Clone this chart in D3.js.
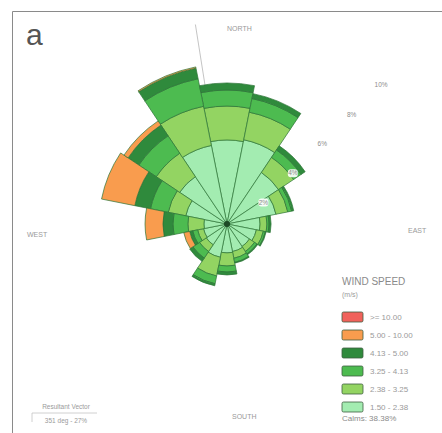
<!DOCTYPE html>
<html>
<head>
<meta charset="utf-8">
<script src="https://cdn.jsdelivr.net/npm/d3@7"></script>
<style>
  body { margin: 0; background: #fff; }
  text { font-family: "Liberation Sans", Arial, sans-serif; }
</style>
</head>
<body>
<div id="rose"></div>
<script>
// Values
const directions = ["N", "NNE", "NE", "ENE", "E", "ESE", "SE", "SSE", "S", "SSW", "SW", "WSW", "W", "WNW", "NW", "NNW"];
const speedBins = ["1.50 - 2.38", "2.38 - 3.25", "3.25 - 4.13", "4.13 - 5.00", "5.00 - 10.00", ">= 10.00"];

// frequency (%) per direction, one array per wind speed class
const pct150 = [4.04, 4.13, 2.98, 2.40, 1.59, 1.44, 1.30, 1.35, 1.39, 1.63, 1.20, 1.15, 1.11, 2.02, 2.74, 3.85];
const pct238 = [1.63, 1.35, 0.87, 0.58, 0.33, 0.34, 0.29, 0.33, 0.63, 0.92, 0.39, 0.29, 0.77, 0.86, 1.35, 1.92];
const pct325 = [0.77, 0.67, 0.43, 0.19, 0.10, 0.10, 0.14, 0.20, 0.29, 0.38, 0.38, 0.24, 0.72, 0.87, 1.01, 1.35];
const pct413 = [0.34, 0.24, 0.24, 0.10, 0.10, 0.04, 0.05, 0.04, 0.14, 0.10, 0.19, 0.15, 0.48, 0.77, 0.62, 0.52];
const pct500 = [0, 0, 0, 0, 0, 0, 0, 0, 0, 0, 0, 0.29, 0.86, 1.63, 0.24, 0.06];
const pct1000 = [0, 0, 0, 0, 0, 0, 0, 0, 0, 0, 0, 0, 0, 0, 0, 0];

const ringTicks = [2, 4, 6, 8, 10];
const calms = 38.38;
const resultantDeg = 351;
const resultantPct = 27;

const binColors = ["#a3ecb1", "#93d462", "#4dbb50", "#2f8a3c", "#f99c4e", "#f0625b"];

const width = 442;
const height = 433;
const cx = 227;
const cy = 224;

const svg = d3.select("#rose")
  .append("svg")
  .attr("width", width)
  .attr("height", height);

// frame (top and left edges only show in the figure)
svg.append("path")
  .attr("d", `M12.5,${height} V11.5 H${width}`)
  .attr("fill", "none")
  .attr("stroke", "#8a8a8a")
  .attr("stroke-width", 1);

svg.append("text")
  .attr("x", 26)
  .attr("y", 45)
  .attr("fill", "#555")
  .style("font-size", "30px")
  .text("a");

// build table for stacking
const binValues = [pct150, pct238, pct325, pct413, pct500, pct1000];
const table = directions.map((dir, i) => {
  const row = { dir };
  speedBins.forEach((k, j) => { row[k] = binValues[j][i]; });
  return row;
});
const series = d3.stack().keys(speedBins)(table);

const r = d3.scaleLinear().domain([0, 10]).range([0, 208]);
const angle = d3.scaleBand()
  .domain(directions)
  .range([-Math.PI / 16, 2 * Math.PI - Math.PI / 16])
  .paddingInner(0);
const color = d3.scaleOrdinal().domain(speedBins).range(binColors);

const rose = svg.append("g").attr("transform", `translate(${cx},${cy})`);

// resultant vector, partly hidden behind the bars
const ra = resultantDeg * Math.PI / 180;
rose.append("line")
  .attr("x1", 0).attr("y1", 0)
  .attr("x2", 202 * Math.sin(ra))
  .attr("y2", -202 * Math.cos(ra))
  .attr("stroke", "#b5b5b5")
  .attr("stroke-width", 0.8);

const arc = d3.arc()
  .innerRadius(d => r(d[0]))
  .outerRadius(d => r(d[1]))
  .startAngle(d => angle(d.data.dir))
  .endAngle(d => angle(d.data.dir) + angle.bandwidth());

rose.selectAll(".layer")
  .data(series)
  .join("g")
  .attr("class", "layer")
  .attr("fill", s => color(s.key))
  .selectAll("path")
  .data(s => s.filter(d => d[1] - d[0] > 0))
  .join("path")
  .attr("d", arc)
  .attr("stroke", "#2c7436")
  .attr("stroke-width", 0.7);

rose.append("circle")
  .attr("r", 3)
  .attr("fill", "#1d4a25");

// ring labels along the NE diagonal
const diag = Math.PI / 4;
const ringLabel = rose.selectAll(".ring")
  .data(ringTicks)
  .join("g")
  .attr("class", "ring")
  .attr("transform", d => `translate(${r(d) * Math.sin(diag) + 7},${-r(d) * Math.cos(diag) + 8})`);

ringLabel.append("rect")
  .attr("x", d => d < 10 ? -5 : -6.5)
  .attr("y", -4)
  .attr("width", d => d < 10 ? 10 : 13)
  .attr("height", 8)
  .attr("rx", 3)
  .attr("fill", "#fff")
  .attr("opacity", d => d <= 4 ? 0.9 : 0);

ringLabel.append("text")
  .attr("text-anchor", "middle")
  .attr("dy", "0.35em")
  .attr("fill", "#8c8c8c")
  .style("font-size", "6.5px")
  .text(d => d + "%");

// compass labels
const compass = [
  { text: "NORTH", x: cx, y: 31 },
  { text: "EAST", x: cx + 181, y: cy + 9 },
  { text: "SOUTH", x: cx + 5, y: cy + 195 },
  { text: "WEST", x: cx - 200, y: cy + 13 }
];
svg.selectAll(".compass")
  .data(compass)
  .join("text")
  .attr("class", "compass")
  .attr("x", d => d.x)
  .attr("y", d => d.y)
  .attr("fill", "#9a9a9a")
  .style("font-size", "7px")
  .text(d => d.text);

// wind speed legend
const legend = svg.append("g").attr("transform", "translate(342,285)");
legend.append("text")
  .attr("fill", "#8a8a8a")
  .style("font-size", "10px")
  .text("WIND SPEED");
legend.append("text")
  .attr("y", 12)
  .attr("fill", "#9a9a9a")
  .style("font-size", "7px")
  .text("(m/s)");

const legendRows = speedBins.slice().reverse();
const row = legend.selectAll(".row")
  .data(legendRows)
  .join("g")
  .attr("class", "row")
  .attr("transform", (d, i) => `translate(0,${27 + i * 18})`);

row.append("rect")
  .attr("width", 21)
  .attr("height", 10)
  .attr("rx", 1.5)
  .attr("fill", d => color(d))
  .attr("stroke", "#3d5d40")
  .attr("stroke-width", 0.8);

row.append("text")
  .attr("x", 28)
  .attr("y", 8)
  .attr("fill", "#9a9a9a")
  .style("font-size", "8px")
  .text(d => d);

legend.append("text")
  .attr("y", 136)
  .attr("fill", "#8a8a8a")
  .style("font-size", "8px")
  .text(`Calms: ${calms.toFixed(2)}%`);

// resultant vector note
const note = svg.append("g").attr("transform", "translate(66,0)");
note.append("text")
  .attr("y", 409)
  .attr("text-anchor", "middle")
  .attr("fill", "#9a9a9a")
  .style("font-size", "6.5px")
  .text("Resultant Vector");
note.append("path")
  .attr("d", "M-34,413 H31 M-34,413 V422")
  .attr("stroke", "#c4c4c4")
  .attr("stroke-width", 0.8)
  .attr("fill", "none");
note.append("text")
  .attr("y", 423)
  .attr("text-anchor", "middle")
  .attr("fill", "#9a9a9a")
  .style("font-size", "6.5px")
  .text(`${resultantDeg} deg - ${resultantPct}%`);
</script>
</body>
</html>
